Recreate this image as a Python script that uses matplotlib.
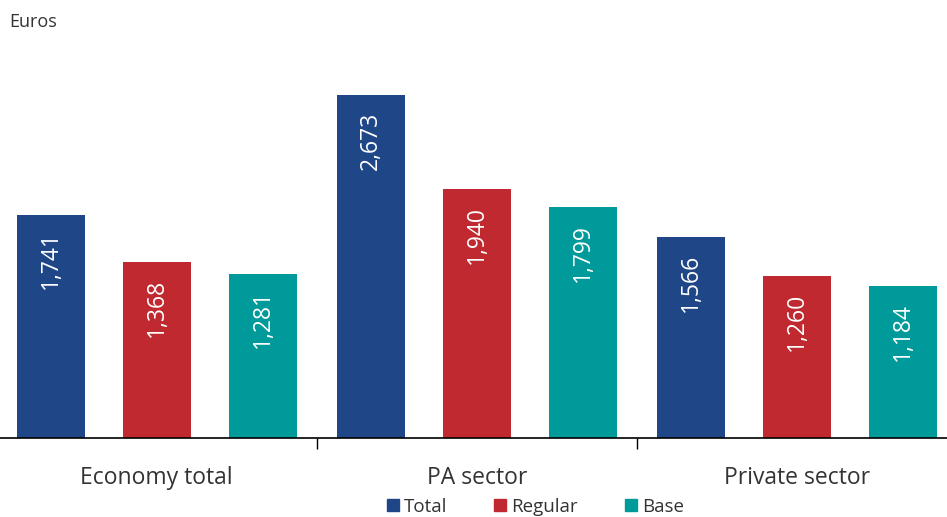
import matplotlib.pyplot as plt
from matplotlib.patches import Patch

plt.rcParams['font.family'] = ['Open Sans', 'DejaVu Sans']

groups = ['Economy total', 'PA sector', 'Private sector']
series = ['Total', 'Regular', 'Base']
total = [1741, 2673, 1566]
regular = [1368, 1940, 1260]
base = [1281, 1799, 1184]
colors = ['#1F4788', '#C0292F', '#009A9A']

fig = plt.figure(figsize=(9.47, 5.17), dpi=100)
ax = fig.add_axes([0, 0.153, 1, 0.79])

width = 0.2125
offsets = [-0.331, 0, 0.331]
for vals, off, color in zip([total, regular, base], offsets, colors):
    xs = [i + off for i in range(len(groups))]
    bars = ax.bar(xs, vals, width=width, color=color)
    for b, v in zip(bars, vals):
        ax.annotate(f'{v:,}', (b.get_x() + b.get_width() / 2, v),
                    xytext=(0, -12), textcoords='offset points',
                    rotation=90, ha='center', va='top',
                    color='white', fontsize=16.5)

ax.set_xlim(-0.49, 2.47)
ax.set_ylim(0, 3185)
for s in ['top', 'right', 'left']:
    ax.spines[s].set_visible(False)
ax.spines['bottom'].set_linewidth(1.2)
ax.set_yticks([])
ax.set_xticks([0, 1, 2])
ax.set_xticklabels(groups, fontsize=16.5, color='#333333')
ax.tick_params(axis='x', which='major', length=0, pad=20)
ax.set_xticks([0.5, 1.5], minor=True)
ax.tick_params(axis='x', which='minor', length=8, width=1, direction='out')

fig.text(0.01, 0.975, 'Euros', fontsize=13, color='#333333', va='top')

handles = [Patch(color=c) for c in colors]
fig.legend(handles, series, loc='lower center', bbox_to_anchor=(0.5655, -0.03),
           ncol=3, frameon=False, fontsize=13.5, handlelength=0.64, handleheight=0.64,
           handletextpad=0.27, columnspacing=2.5, labelcolor='#333333')

fig.savefig('out.png', dpi=100)
